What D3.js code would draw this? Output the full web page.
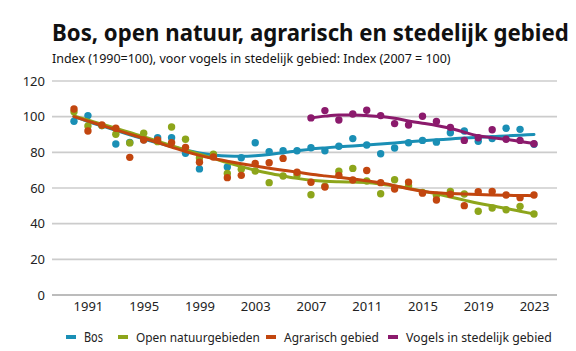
<!DOCTYPE html>
<html>
<head>
<meta charset="utf-8">
<script src="https://cdn.jsdelivr.net/npm/d3@7"></script>
<style>
  html, body { margin: 0; padding: 0; background: #fff; }
  svg { display: block; font-family: "Noto Sans", "Open Sans", sans-serif; }
</style>
</head>
<body>
<svg id="chart" width="576" height="351"></svg>
<script>
// ---- data ----
const years = [1990,1991,1992,1993,1994,1995,1996,1997,1998,1999,2000,2001,2002,2003,2004,2005,2006,2007,2008,2009,2010,2011,2012,2013,2014,2015,2016,2017,2018,2019,2020,2021,2022,2023];
const vogelYears = [2007,2008,2009,2010,2011,2012,2013,2014,2015,2016,2017,2018,2019,2020,2021,2022,2023];

const bos = [97.4,100.6,95,84.7,85.5,87,88.2,88.2,79.5,70.7,78.5,71.8,77.0,85.4,80.4,80.9,80.9,82.6,80.9,83.4,87.7,84.1,79.2,82.4,85.4,86.7,85.7,91.0,92.0,86.2,87.7,93.5,92.9,84.5];
const openNatuur = [102.8,94.8,95,90.1,85.3,90.7,86,94.2,87.3,76.8,78.9,68.2,70.5,69.5,63.0,66.7,67.3,56.2,61,69.4,71.0,63.9,56.8,64.6,61.1,57.5,55.9,58.1,56.6,47.0,48.8,47.8,49.7,45.4];
const agrarisch = [104.3,92.0,95.3,93.5,77.2,86.9,86.9,85.4,82.8,74.4,77.4,65.8,67.1,73.8,74.2,76.6,68.8,63.2,60.6,67.1,64.5,69.8,63.0,59.4,63.3,57.1,53.3,56.5,50.1,57.9,58.1,56.1,54.6,56.1];
const vogels = [99.3,103.4,98.1,101.5,103.6,100.6,96.1,95.3,100.2,97.3,94.0,86.7,88.2,92.7,87.3,86.7,84.8];

const bosTrend = [100,97.3,94.8,92.3,89.8,87.5,85.3,83.3,81.3,79.6,78.5,77.9,77.8,78.1,78.8,79.8,80.8,81.8,82.5,83.1,83.6,84.1,84.7,85.3,85.9,86.5,87,87.5,88,88.4,88.8,89.2,89.6,90];
const openTrend = [100.4,98.1,95.8,93.5,91.1,88.8,86.3,83.8,81.3,78.9,76.6,74.2,72,70,68.3,66.8,65.4,64.4,63.8,63.5,63.3,63.1,62.3,61.1,59.8,58.3,56.7,55,53.2,51.4,50,48.6,47,45.4];
const agrTrend = [100,97.5,95.1,92.6,90.2,87.9,85.5,82.9,80.4,78.3,76.5,75,73.6,72.3,71.1,70,68.9,67.7,66.8,66,65.1,64.1,62.9,61.3,59.6,58.2,57.3,56.9,56.6,56.4,56.1,55.9,55.8,55.7];
const vogTrend = [99.3,100.3,100.9,100.9,100.6,100.1,99.1,97.6,96.3,95.1,93.5,91.3,89.3,88.2,87.3,86.1,85.0];

const yTicks = [0,20,40,60,80,100,120];
const xTicks = [1991,1995,1999,2003,2007,2011,2015,2019,2023];
const seriesNames = ["Bos","Open natuurgebieden","Agrarisch gebied","Vogels in stedelijk gebied"];
const colors = ["#1a8fb5","#8da51b","#c2460f","#8b1a6c"];

const titleText = "Bos, open natuur, agrarisch en stedelijk gebied";
const subtitleText = "Index (1990=100), voor vogels in stedelijk gebied: Index (2007 = 100)";

// ---- chart ----
const svg = d3.select("#chart");
const x = d3.scaleLinear().domain([1990, 2023]).range([74, 534]);
const y = d3.scaleLinear().domain([0, 120]).range([295, 81]);
const gridLeft = 52, gridRight = 557;

// place a text at (px,py) and squeeze it horizontally to a target width
function fitText(parent, px, py, str, size, weight, targetW) {
  const g = parent.append("g");
  const t = g.append("text").attr("x", 0).attr("y", 0)
    .attr("font-size", size).attr("font-weight", weight).attr("fill", "#111").text(str);
  const w = t.node().getComputedTextLength();
  const sx = targetW / w;
  g.attr("transform", `translate(${px},${py}) scale(${sx},1)`);
  return g;
}

fitText(svg, 52, 40.5, titleText, 23, "bold", 517);
fitText(svg, 52, 62.5, subtitleText, 12.5, "normal", 399);

// gridlines
svg.append("g").selectAll("line").data(yTicks).join("line")
  .attr("x1", gridLeft).attr("x2", gridRight)
  .attr("y1", d => y(d)).attr("y2", d => y(d))
  .attr("stroke", d => d === 0 ? "#a6a6a6" : "#cccccc")
  .attr("stroke-width", 1.6);

// y axis labels
const yAxis = d3.axisLeft(y).tickValues(yTicks).tickSize(0).tickPadding(0);
svg.append("g").attr("transform", "translate(45,0)").call(yAxis)
  .call(g => g.select(".domain").remove())
  .call(g => g.selectAll("text").attr("font-size", 13).attr("fill", "#222")
    .attr("font-family", "\"Noto Sans\", sans-serif"));

// x axis labels
const xAxis = d3.axisBottom(x).tickValues(xTicks).tickFormat(d3.format("d")).tickSize(0).tickPadding(7);
svg.append("g").attr("transform", "translate(0,295)").call(xAxis)
  .call(g => g.select(".domain").remove())
  .call(g => g.selectAll("text").attr("font-size", 13).attr("fill", "#222")
    .attr("font-family", "\"Noto Sans\", sans-serif"));

// series
const series = [
  { yrs: years, pts: bos, trend: bosTrend },
  { yrs: years, pts: openNatuur, trend: openTrend },
  { yrs: years, pts: agrarisch, trend: agrTrend },
  { yrs: vogelYears, pts: vogels, trend: vogTrend }
];
const line = d3.line().x(d => x(d[0])).y(d => y(d[1])).curve(d3.curveMonotoneX);

series.forEach((s, i) => {
  const g = svg.append("g");
  g.append("path")
    .datum(s.yrs.map((yr, k) => [yr, s.trend[k]]))
    .attr("d", line).attr("fill", "none")
    .attr("stroke", colors[i]).attr("stroke-width", 3)
    .attr("stroke-linecap", "round");
  g.selectAll("circle").data(s.yrs.map((yr, k) => [yr, s.pts[k]])).join("circle")
    .attr("cx", d => x(d[0])).attr("cy", d => y(d[1]))
    .attr("r", 3.7).attr("fill", colors[i]);
});

// legend
const legend = svg.append("g");
const swatchX = [66, 118, 266, 388];
const labelW = [19, 124, 95, 146];
seriesNames.forEach((name, i) => {
  legend.append("rect").attr("x", swatchX[i]).attr("y", 335).attr("width", 10).attr("height", 4)
    .attr("fill", colors[i]);
  const g = fitText(legend, swatchX[i] + 18, 341.5, name, 13.5, "normal", labelW[i]);
  g.select("text").attr("fill", "#222");
});
</script>
</body>
</html>
